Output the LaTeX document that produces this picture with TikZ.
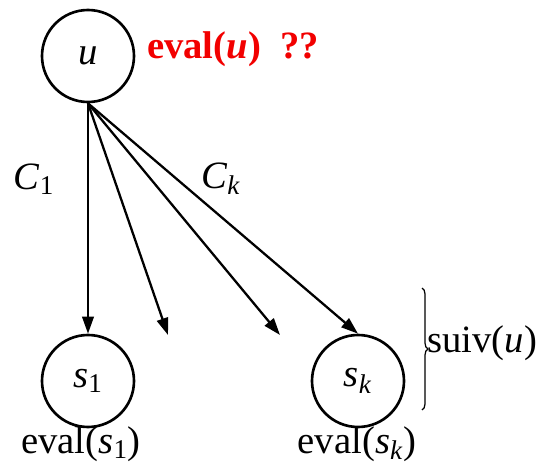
\documentclass[tikz,border=0pt]{standalone}
\usepackage{fontspec}
\setmainfont{Liberation Serif}
\usepackage{xcolor}
\usepackage{tikz}
\usetikzlibrary{arrows.meta,decorations.pathreplacing,positioning}
\colorlet{colorEVAL}{red!95!black}
\newcommand{\vr}[1]{\textit{#1}}
\tikzset{
   every path/.style={>={Triangle[length=3.4mm,width=2.3mm]}},
   etat/.style={draw,circle,line width=1.5pt,minimum size=1.84cm,inner sep=0pt},
   coup/.style={->,line width=1.3pt},
   lbl/.style={font=\fontsize{22}{26}\selectfont},
}

\begin{document}
\begin{tikzpicture}[
    every node/.style={lbl}
]
\useasboundingbox (0,0) rectangle (10.74,-9.30);

% =========================================================
% racine u
% =========================================================

\node[etat] (u) at (1.76,-1.12) {\vr{u}};

\node[text=colorEVAL,font=\fontsize{22}{26}\selectfont\bfseries] (evalu) at (4.66,-0.98)
{eval(\vr{u})\ \ ??};


% =========================================================
% successeurs
% =========================================================

\node[etat] (s1) at (1.76,-7.62) {\vr{s}\textsubscript{1}};
\node[etat] (sk) at (7.16,-7.62) {\vr{s}\textsubscript{\vr{k}}};

\coordinate (m2) at (3.36,-6.70);
\coordinate (m3) at (5.60,-6.70);

\node (evals1) at (1.62,-8.88) {eval(\vr{s}\textsubscript{1})};
\node (evalsk) at (7.14,-8.88) {eval(\vr{s}\textsubscript{\vr{k}})};


% coups
\draw[coup] (u.south) -- (s1.north);
\draw[coup] (u.south) -- (m2);
\draw[coup] (u.south) -- (m3);
\draw[coup] (u.south) -- (sk.north);

\node (c1) at (0.68,-3.58) {\vr{C}\textsubscript{1}};
\node (ck) at (4.42,-3.58) {\vr{C}\textsubscript{\vr{k}}};


% =========================================================
% suiv(u)
% =========================================================

\coordinate (bh) at (8.44,-5.76);
\coordinate (bb) at (8.44,-8.20);
\draw[decorate,decoration={brace,amplitude=0.12cm},line width=0.7pt] (bh) -- (bb);

\node[anchor=west,inner sep=0pt] (suiv) at (8.54,-6.86) {suiv(\vr{u})};

\end{tikzpicture}
\end{document}
